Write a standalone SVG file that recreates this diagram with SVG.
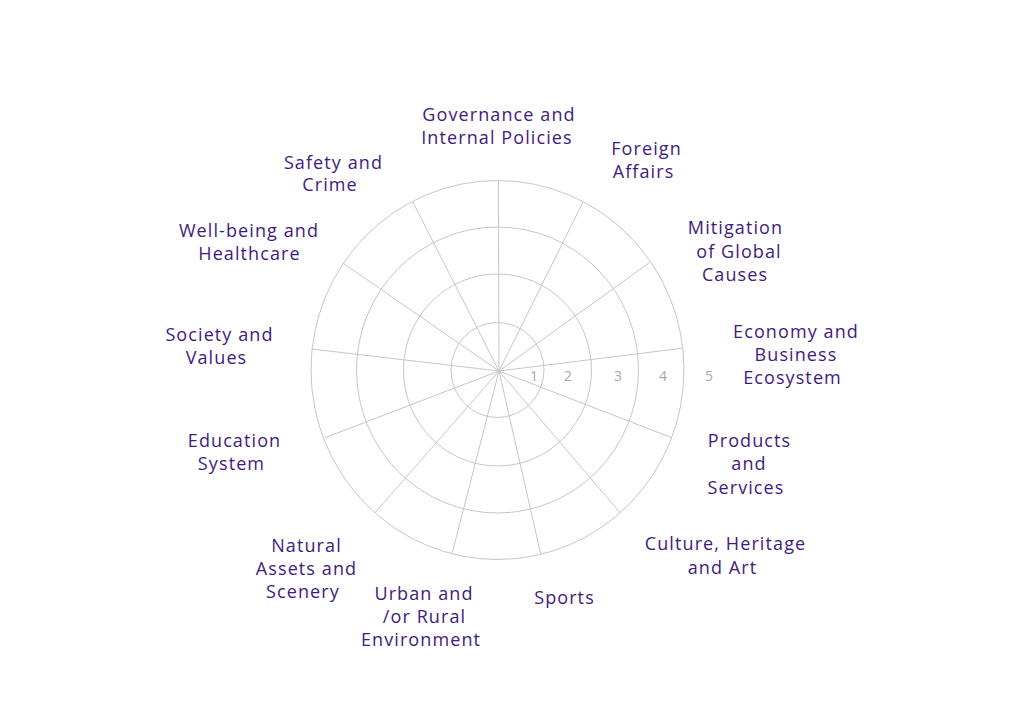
<svg xmlns="http://www.w3.org/2000/svg" width="1024" height="724" viewBox="0 0 1024 724">
<style>
.grid{fill:none;stroke:#c6c6c6;stroke-width:1}
.lbl{font-family:"Open Sans","Liberation Sans",sans-serif;font-size:18px;fill:#3f1a80;text-anchor:middle;letter-spacing:1.1px}
.tick{font-family:"Open Sans","Liberation Sans",sans-serif;font-size:14px;fill:#a8a8a8;text-anchor:middle}
</style>
<rect width="1024" height="724" fill="#ffffff"/>
<g id="grid">
<ellipse class="grid" cx="497.5" cy="370" rx="46.5" ry="47.5"/>
<ellipse class="grid" cx="497.5" cy="370" rx="94" ry="96"/>
<ellipse class="grid" cx="497.5" cy="370" rx="141" ry="143"/>
<ellipse class="grid" cx="497.5" cy="370" rx="186.5" ry="189.5"/>
</g>
<g id="connectors">
<line class="grid" x1="499" y1="371" x2="498.3" y2="180.7"/>
<line class="grid" x1="499" y1="371" x2="582.7" y2="202.7"/>
<line class="grid" x1="499" y1="371" x2="649.3" y2="262.7"/>
<line class="grid" x1="499" y1="371" x2="681.7" y2="348.3"/>
<line class="grid" x1="499" y1="371" x2="671.7" y2="437.7"/>
<line class="grid" x1="499" y1="371" x2="620.7" y2="513.3"/>
<line class="grid" x1="499" y1="371" x2="540.7" y2="554"/>
<line class="grid" x1="499" y1="371" x2="452.3" y2="552.7"/>
<line class="grid" x1="499" y1="371" x2="375" y2="512.7"/>
<line class="grid" x1="499" y1="371" x2="325" y2="437.7"/>
<line class="grid" x1="499" y1="371" x2="311.7" y2="349"/>
<line class="grid" x1="499" y1="371" x2="343.3" y2="263.3"/>
<line class="grid" x1="499" y1="371" x2="412.7" y2="201.7"/>
</g>
<g id="ticks">
<text class="tick" x="534" y="381">1</text>
<text class="tick" x="568" y="381">2</text>
<text class="tick" x="618" y="381">3</text>
<text class="tick" x="663" y="381">4</text>
<text class="tick" x="709" y="381">5</text>
</g>
<g id="n-governance"><text class="lbl" x="499" y="121">Governance and</text><text class="lbl" x="497" y="144">Internal Policies</text></g>
<g id="n-foreign"><text class="lbl" x="646.5" y="155">Foreign</text><text class="lbl" x="643.5" y="177.5">Affairs</text></g>
<g id="n-mitigation"><text class="lbl" x="735.5" y="234">Mitigation</text><text class="lbl" x="739" y="257.5">of Global</text><text class="lbl" x="735" y="281">Causes</text></g>
<g id="n-economy"><text class="lbl" x="796" y="338">Economy and</text><text class="lbl" x="796" y="361">Business</text><text class="lbl" x="792.5" y="384">Ecosystem</text></g>
<g id="n-products"><text class="lbl" x="749.5" y="447">Products</text><text class="lbl" x="749" y="470">and</text><text class="lbl" x="746" y="493.5">Services</text></g>
<g id="n-culture"><text class="lbl" x="725.5" y="550">Culture, Heritage</text><text class="lbl" x="722.5" y="573.5">and Art</text></g>
<g id="n-sports"><text class="lbl" x="564.5" y="603.5">Sports</text></g>
<g id="n-urban"><text class="lbl" x="424" y="600">Urban and</text><text class="lbl" x="424.5" y="623">/or Rural</text><text class="lbl" x="421" y="646">Environment</text></g>
<g id="n-natural"><text class="lbl" x="306.5" y="551.5">Natural</text><text class="lbl" x="306.5" y="574.5">Assets and</text><text class="lbl" x="303" y="597.5">Scenery</text></g>
<g id="n-education"><text class="lbl" x="234.5" y="447">Education</text><text class="lbl" x="231.5" y="470">System</text></g>
<g id="n-society"><text class="lbl" x="219.5" y="341">Society and</text><text class="lbl" x="216.5" y="363.5">Values</text></g>
<g id="n-wellbeing"><text class="lbl" x="249" y="237">Well-being and</text><text class="lbl" x="249.5" y="259.5">Healthcare</text></g>
<g id="n-safety"><text class="lbl" x="333.5" y="168.5">Safety and</text><text class="lbl" x="330" y="191">Crime</text></g>
</svg>
